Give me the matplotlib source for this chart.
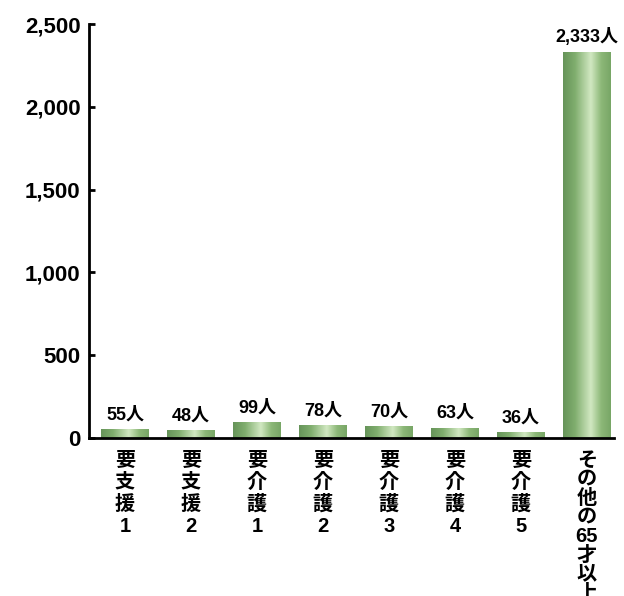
import numpy as np
import matplotlib
matplotlib.use("Agg")
import matplotlib.pyplot as plt
from matplotlib.colors import LinearSegmentedColormap
from matplotlib.patches import Rectangle
from matplotlib.ticker import FuncFormatter

categories = ["要支援1", "要支援2", "要介護1", "要介護2", "要介護3", "要介護4", "要介護5", "その他の65才以上"]
counts = [55, 48, 99, 78, 70, 63, 36, 2333]
value_labels = ["55人", "48人", "99人", "78人", "70人", "63人", "36人", "2,333人"]
yticks = [0, 500, 1000, 1500, 2000, 2500]

def stacked(label):
    # "65" stays on one line; every other character gets its own line
    parts = []
    i = 0
    while i < len(label):
        if label[i:i + 2] == "65":
            parts.append("65")
            i += 2
        else:
            parts.append(label[i])
            i += 1
    return "\n".join(parts)

fam = ["Liberation Sans", "Noto Sans CJK JP"]

fig = plt.figure(figsize=(6.24, 5.96), dpi=100)
ax = fig.add_axes([0.1426, 0.265, 0.8413, 0.6946])

cmap = LinearSegmentedColormap.from_list(
    "cyl",
    [(0.0, (0.40, 0.58, 0.35)),
     (0.25, (0.50, 0.68, 0.43)),
     (0.58, (0.82, 0.91, 0.76)),
     (0.8, (0.55, 0.72, 0.47)),
     (1.0, (0.47, 0.65, 0.40))])
grad = np.linspace(0, 1, 256).reshape(1, -1)

width = 0.72
x = np.arange(len(categories))
for xi, v in zip(x, counts):
    x0, x1 = xi - width / 2, xi + width / 2
    rect = Rectangle((x0, 0), width, v, facecolor="none", edgecolor="none")
    ax.add_patch(rect)
    im = ax.imshow(grad, cmap=cmap, aspect="auto", extent=(x0, x1, 0, v),
                   interpolation="bilinear", zorder=2)
    im.set_clip_path(rect)

for xi, v, lab in zip(x, counts, value_labels):
    ax.annotate(lab, (xi, v), xytext=(0, 4), textcoords="offset points",
                ha="center", va="bottom", fontsize=13, fontweight="bold",
                family=fam)

ax.set_xlim(-0.545, 7.41)
ax.set_ylim(0, 2500)
ax.set_yticks(yticks)
ax.yaxis.set_major_formatter(FuncFormatter(lambda v, p: f"{int(v):,}"))
for t in ax.get_yticklabels():
    t.set_fontsize(16)
    t.set_fontweight("bold")
    t.set_family(fam)
ax.tick_params(axis="y", direction="in", length=4, width=2, pad=6)
ax.set_xticks([])

for s in ["top", "right"]:
    ax.spines[s].set_visible(False)
for s in ["left", "bottom"]:
    ax.spines[s].set_linewidth(2)
    ax.spines[s].set_zorder(3)

for xi, c in zip(x, categories):
    ls = 1.0 if len(c) > 5 else 1.2
    ax.annotate(stacked(c), (xi, 0), xytext=(0, -9), textcoords="offset points",
                ha="center", va="top", fontsize=14.5, fontweight="bold",
                family=fam, linespacing=ls, annotation_clip=False)

fig.savefig("out.png", dpi=100)
